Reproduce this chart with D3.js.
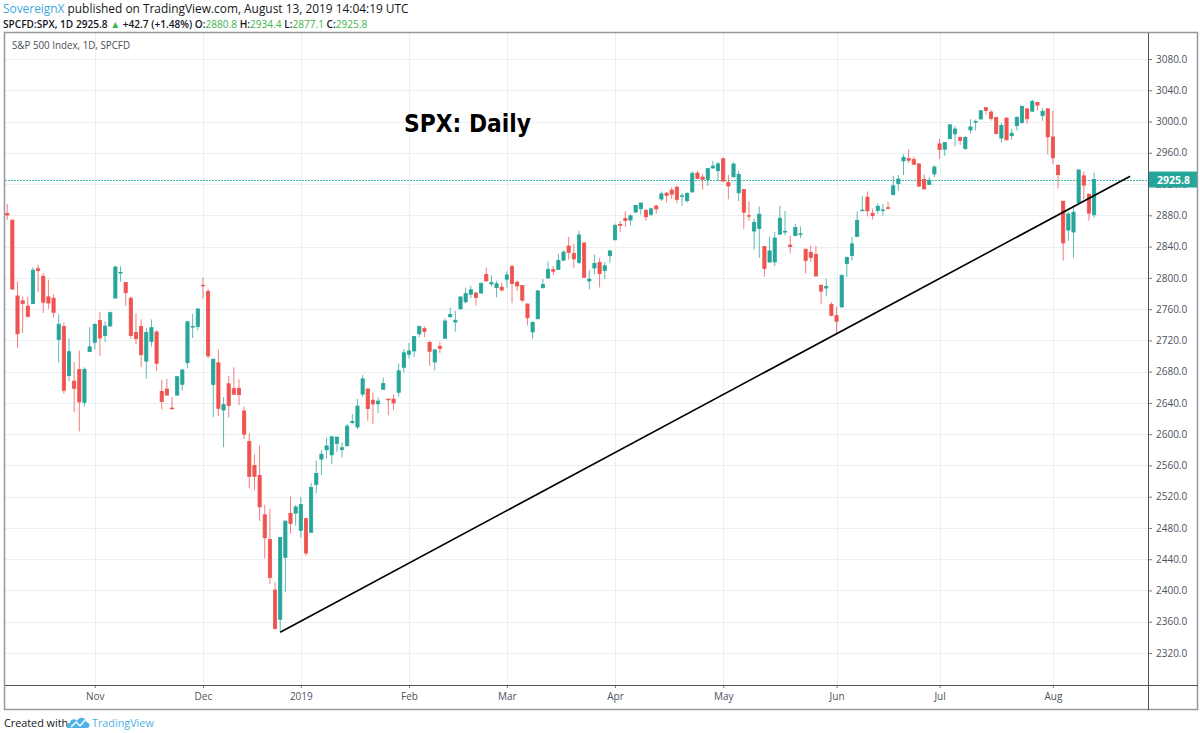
<!DOCTYPE html>
<html>
<head>
<meta charset="utf-8">
<script src="https://cdn.jsdelivr.net/npm/d3@7"></script>
<style>
  body { margin: 0; background: #fff; }
  svg { display: block; font-family: 'Open Sans', sans-serif; }
</style>
</head>
<body>
<svg id="svg" width="1200" height="733"></svg>
<script>
// SPX daily, 2018-10-09 .. 2019-08-13 (one entry per trading day)
const open = [
  2882.51, 2873.90, 2776.87, 2770.54, 2763.83, 2767.05, 2811.67, 2802.00, 2775.66, 2773.94,
  2721.03, 2737.87, 2674.88, 2667.86, 2682.65, 2640.68, 2705.60,
  2717.58, 2745.45, 2726.37, 2738.40, 2774.13, 2806.38, 2794.10, 2773.93, 2730.05, 2737.90,
  2693.52, 2718.70, 2730.74, 2654.60, 2657.74, 2633.36, 2649.97, 2663.75, 2691.45, 2736.97, 2737.76,
  2790.50, 2782.43, 2663.51, 2691.26, 2630.86, 2664.44, 2658.23, 2658.70, 2629.68, 2590.75,
  2559.90, 2547.05, 2496.77, 2465.38, 2400.56, 2363.12, 2442.50, 2498.77, 2498.94,
  2476.96, 2491.92, 2474.33, 2535.61, 2568.11, 2580.00, 2573.51, 2588.11, 2580.31, 2585.10,
  2614.75, 2609.28, 2651.27, 2657.88, 2643.48, 2638.84, 2657.44, 2644.97, 2644.89, 2653.62, 2685.49,
  2702.32, 2706.49, 2728.34, 2735.05, 2717.53, 2692.36, 2712.40, 2722.61, 2750.30, 2743.50,
  2760.24, 2769.28, 2779.05, 2780.67, 2780.67, 2804.35, 2792.36, 2787.50, 2788.11,
  2798.22, 2814.37, 2794.41, 2790.27, 2766.53, 2730.79, 2747.61, 2787.34, 2799.78, 2810.38,
  2810.79, 2822.61, 2840.76, 2831.34, 2819.72, 2844.52, 2796.01, 2812.66, 2819.72, 2809.40, 2828.27,
  2848.63, 2868.24, 2876.09, 2873.99, 2884.16, 2888.46, 2886.58, 2881.37, 2891.92, 2900.86,
  2908.32, 2912.26, 2916.04, 2904.81, 2898.78, 2909.99, 2934.00, 2928.99, 2925.81, 2940.58, 2937.14,
  2952.33, 2922.16, 2929.21, 2908.89, 2913.03, 2879.61, 2859.84, 2863.10, 2840.19, 2820.12, 2820.38,
  2855.80, 2858.60, 2841.94, 2854.02, 2856.06, 2836.70, 2832.41, 2830.03, 2790.25, 2786.94, 2766.15,
  2751.53, 2762.64, 2818.09, 2828.51, 2852.87, 2885.83, 2903.27, 2882.73, 2886.24, 2886.82,
  2889.75, 2906.71, 2920.55, 2949.60, 2952.71, 2951.42, 2945.78, 2926.07, 2919.66, 2932.94,
  2971.41, 2964.66, 2978.08, 2984.25, 2979.77, 2965.52, 2989.30, 2999.62, 3003.36, 3017.80, 3012.13,
  3005.10, 2978.87, 3004.26, 2981.93, 2994.74, 2998.77, 3016.26, 3013.25, 3024.47, 3007.66, 3016.22,
  2980.32, 2943.90, 2898.07, 2861.18, 2858.65, 2896.21, 2930.51, 2907.07, 2880.80,
];
const high = [
  2894.83, 2874.02, 2795.14, 2775.77, 2775.99, 2813.46, 2816.94, 2806.04, 2797.77, 2778.94,
  2753.59, 2742.59, 2722.70, 2692.38, 2706.85, 2685.43, 2736.69,
  2741.67, 2756.55, 2744.27, 2756.82, 2815.15, 2814.75, 2794.10, 2775.99, 2754.60, 2746.80,
  2735.38, 2746.75, 2733.16, 2669.44, 2670.73, 2647.55, 2674.35, 2682.53, 2744.00, 2753.75, 2760.88,
  2800.18, 2785.93, 2696.15, 2708.54, 2647.51, 2674.35, 2685.44, 2670.19, 2635.07, 2601.13,
  2573.99, 2585.29, 2509.63, 2504.41, 2410.34, 2467.76, 2489.10, 2520.27, 2509.24,
  2519.49, 2493.14, 2538.07, 2566.16, 2579.82, 2595.32, 2597.82, 2596.27, 2589.32, 2613.08,
  2625.76, 2645.06, 2675.47, 2657.88, 2653.19, 2647.20, 2672.38, 2644.97, 2650.93, 2690.44, 2708.95,
  2716.66, 2724.99, 2738.98, 2738.08, 2719.32, 2708.07, 2718.05, 2748.19, 2761.85, 2757.90,
  2775.66, 2787.33, 2789.88, 2781.58, 2794.20, 2813.49, 2803.12, 2795.76, 2793.73,
  2808.02, 2816.88, 2796.44, 2790.27, 2767.25, 2744.13, 2784.00, 2798.32, 2821.24, 2815.00,
  2830.73, 2835.41, 2852.42, 2843.54, 2860.31, 2846.16, 2809.79, 2829.87, 2825.56, 2819.71, 2836.03,
  2869.40, 2872.90, 2885.25, 2881.28, 2893.24, 2895.95, 2886.88, 2889.71, 2893.42, 2910.54,
  2909.60, 2916.06, 2918.00, 2908.40, 2909.51, 2936.31, 2936.83, 2933.10, 2939.88, 2949.52, 2948.22,
  2954.13, 2931.68, 2947.85, 2937.32, 2913.03, 2897.96, 2875.97, 2891.31, 2840.19, 2852.54, 2858.68,
  2892.15, 2885.48, 2853.86, 2868.88, 2865.47, 2836.70, 2841.36, 2840.51, 2792.03, 2799.00, 2768.98,
  2763.07, 2804.49, 2827.28, 2852.10, 2884.97, 2904.77, 2910.61, 2888.57, 2895.24, 2894.45,
  2897.27, 2930.79, 2931.74, 2958.06, 2964.15, 2954.92, 2946.52, 2932.59, 2929.30, 2943.98,
  2977.93, 2973.21, 2995.84, 2994.03, 2980.76, 2981.90, 3002.98, 3002.33, 3013.92, 3017.80, 3015.02,
  3005.26, 2998.28, 3006.02, 2990.71, 3005.90, 3019.59, 3016.31, 3027.98, 3025.61, 3017.19, 3017.40,
  3013.59, 2945.50, 2898.07, 2884.40, 2892.17, 2938.72, 2935.75, 2907.58, 2934.40,
];
const low = [
  2874.27, 2784.86, 2710.51, 2729.44, 2749.03, 2766.91, 2781.81, 2755.18, 2760.27, 2749.22,
  2691.43, 2651.89, 2667.84, 2628.16, 2603.54, 2635.34, 2705.60,
  2708.85, 2700.44, 2717.94, 2737.08, 2774.13, 2794.99, 2764.24, 2722.00, 2714.98, 2685.75,
  2670.75, 2712.16, 2681.09, 2631.52, 2649.82, 2631.09, 2649.97, 2655.89, 2684.38, 2722.94, 2732.76,
  2773.38, 2697.18, 2621.53, 2623.14, 2583.23, 2621.30, 2650.26, 2637.27, 2593.84, 2530.54,
  2528.71, 2488.96, 2441.18, 2408.55, 2351.10, 2346.58, 2397.94, 2472.89, 2482.82,
  2467.47, 2443.96, 2474.33, 2524.56, 2547.56, 2568.89, 2562.02, 2577.40, 2570.41, 2585.10,
  2612.68, 2606.36, 2647.58, 2617.27, 2612.86, 2627.01, 2657.33, 2624.06, 2631.05, 2648.34, 2678.65,
  2696.88, 2698.75, 2724.03, 2724.15, 2687.26, 2681.83, 2703.79, 2722.61, 2748.63, 2731.23,
  2760.24, 2767.29, 2774.06, 2764.55, 2779.11, 2794.99, 2789.47, 2775.13, 2782.51,
  2787.38, 2767.66, 2782.97, 2768.69, 2739.09, 2722.27, 2747.61, 2786.73, 2799.78, 2803.46,
  2810.79, 2821.99, 2823.27, 2812.43, 2817.38, 2800.47, 2785.02, 2803.99, 2787.72, 2798.77, 2819.23,
  2848.63, 2858.75, 2865.17, 2867.14, 2882.99, 2880.78, 2873.33, 2879.13, 2881.99, 2898.37,
  2896.48, 2900.71, 2895.45, 2891.90, 2896.35, 2908.53, 2926.05, 2912.84, 2917.56, 2939.35, 2924.11,
  2923.36, 2900.50, 2929.21, 2898.21, 2862.60, 2873.28, 2836.40, 2825.39, 2801.43, 2820.12, 2815.08,
  2855.80, 2854.23, 2831.29, 2854.02, 2851.11, 2805.49, 2820.19, 2801.58, 2766.06, 2776.74, 2750.52,
  2728.81, 2762.64, 2800.92, 2822.45, 2852.87, 2885.51, 2878.53, 2874.68, 2881.99, 2879.62,
  2887.30, 2905.44, 2911.43, 2931.50, 2946.87, 2944.05, 2916.01, 2912.99, 2918.57, 2929.05,
  2952.22, 2955.92, 2977.96, 2967.97, 2970.09, 2963.44, 2984.62, 2988.80, 3001.87, 3008.77, 3001.15,
  2984.25, 2973.09, 2975.86, 2976.65, 2988.56, 2996.82, 2997.24, 3012.59, 3014.30, 3000.94, 2958.08,
  2945.23, 2914.11, 2822.12, 2847.42, 2825.71, 2894.47, 2900.15, 2873.14, 2877.10,
];
const close = [
  2880.34, 2785.68, 2728.37, 2767.13, 2750.79, 2809.92, 2809.21, 2768.78, 2767.78, 2755.88,
  2740.69, 2656.10, 2705.57, 2658.69, 2641.25, 2682.63, 2711.74,
  2740.37, 2723.06, 2738.31, 2755.45, 2813.89, 2806.83, 2781.01, 2726.22, 2722.18, 2701.58,
  2730.20, 2736.27, 2690.73, 2641.89, 2649.93, 2632.56, 2673.45, 2682.17, 2743.79, 2737.76, 2760.17,
  2790.37, 2700.06, 2695.95, 2633.08, 2637.72, 2636.78, 2651.07, 2650.54, 2599.95, 2545.94,
  2546.16, 2506.96, 2467.42, 2416.62, 2351.10, 2467.70, 2488.83, 2485.74, 2506.85,
  2510.03, 2447.89, 2531.94, 2549.69, 2574.41, 2584.96, 2596.64, 2596.26, 2582.61, 2610.30,
  2616.10, 2635.96, 2670.71, 2632.90, 2638.70, 2642.33, 2664.76, 2643.85, 2640.00, 2681.05, 2704.10,
  2706.53, 2724.87, 2737.70, 2731.61, 2706.05, 2707.88, 2709.80, 2744.73, 2753.03, 2745.73,
  2775.60, 2779.76, 2784.70, 2774.88, 2792.67, 2796.11, 2793.90, 2792.38, 2784.49,
  2803.69, 2792.81, 2789.65, 2771.45, 2748.93, 2743.07, 2783.30, 2791.52, 2810.92, 2808.48,
  2822.48, 2832.94, 2832.57, 2824.23, 2854.88, 2800.71, 2798.36, 2818.46, 2805.37, 2815.44, 2834.40,
  2867.19, 2867.24, 2873.40, 2879.39, 2892.74, 2895.77, 2878.20, 2888.21, 2888.32, 2907.41,
  2905.58, 2907.06, 2900.45, 2905.03, 2907.97, 2933.68, 2927.25, 2926.17, 2939.88, 2943.03, 2945.83,
  2923.73, 2917.52, 2945.64, 2932.47, 2884.05, 2879.42, 2870.72, 2881.40, 2811.87, 2834.41, 2850.96,
  2876.32, 2859.53, 2840.23, 2864.36, 2856.27, 2822.24, 2826.06, 2802.39, 2783.02, 2788.86, 2752.06,
  2744.45, 2803.27, 2826.15, 2843.49, 2873.34, 2886.73, 2885.72, 2879.84, 2891.64, 2886.98,
  2889.67, 2917.75, 2926.46, 2954.18, 2950.46, 2945.35, 2917.38, 2913.78, 2924.92, 2941.76,
  2964.33, 2973.01, 2995.82, 2990.41, 2975.95, 2979.63, 2993.07, 2999.91, 3013.77, 3014.30, 3004.04,
  2984.42, 2995.11, 2976.61, 2985.03, 3005.47, 3019.56, 3003.67, 3025.86, 3020.97, 3013.18, 2980.38,
  2953.56, 2932.05, 2844.74, 2881.77, 2883.98, 2938.09, 2918.65, 2882.70, 2925.80,
];

// time axis: label + bar index of first trading day of the month
const monthLabels = ['Nov', 'Dec', '2019', 'Feb', 'Mar', 'Apr', 'May', 'Jun', 'Jul', 'Aug'];
const monthIndex = [17, 38, 57, 78, 97, 118, 139, 161, 181, 203];

// price axis
const priceTicks = [2320, 2360, 2400, 2440, 2480, 2520, 2560, 2600, 2640, 2680, 2720,
  2760, 2800, 2840, 2880, 2920, 2960, 3000, 3040, 3080];
const lastPrice = 2925.8;

// trend line through the Dec 26 and Jun 3 lows
const trendIndex = [53, 218];
const trendPrice = [2346.58, 2930.0];

const headerInfo = { change: '+42.7 (+1.48%)', o: '2880.8', h: '2934.4', l: '2877.1', c: '2925.8' };

const UP = '#26a69a';
const DOWN = '#ef5350';
const GRID = '#e9eff3';

const svg = d3.select('#svg');
const plot = { left: 5, right: 1148, top: 33, bottom: 685 };
const frame = { right: 1198, bottom: 710 };

const x = d3.scaleLinear().domain([0, 211]).range([7.2, 1094.1]);
const y = d3.scaleLinear().domain([2320, 3080]).range([653, 59]);

svg.append('rect').attr('width', 1200).attr('height', 733).attr('fill', '#fff');

svg.append('defs').append('clipPath').attr('id', 'plotClip')
  .append('rect')
  .attr('x', plot.left).attr('y', plot.top)
  .attr('width', plot.right - plot.left).attr('height', plot.bottom - plot.top);

// Grid
const gGrid = svg.append('g').attr('clip-path', 'url(#plotClip)');
gGrid.selectAll('line.h')
  .data(priceTicks)
  .enter()
  .append('line')
  .attr('x1', plot.left).attr('x2', plot.right)
  .attr('y1', (d) => Math.round(y(d)) + 0.5).attr('y2', (d) => Math.round(y(d)) + 0.5)
  .attr('stroke', GRID);
gGrid.selectAll('line.v')
  .data(monthIndex)
  .enter()
  .append('line')
  .attr('x1', (d) => Math.round(x(d)) + 0.5).attr('x2', (d) => Math.round(x(d)) + 0.5)
  .attr('y1', plot.top).attr('y2', plot.bottom)
  .attr('stroke', GRID);

// Last price dotted line
svg.append('line')
  .attr('x1', plot.left).attr('x2', plot.right)
  .attr('y1', Math.round(y(lastPrice)) + 0.5).attr('y2', Math.round(y(lastPrice)) + 0.5)
  .attr('stroke', '#3fb5a9').attr('stroke-dasharray', '2,1');

// Candles
const candles = close.map((c, i) => ({ i, o: open[i], h: high[i], l: low[i], c }));
const gCandles = svg.append('g').attr('clip-path', 'url(#plotClip)');
const candle = gCandles.selectAll('g.candle')
  .data(candles)
  .enter()
  .append('g')
  .attr('fill', (d) => (d.c >= d.o ? UP : DOWN))
  .attr('stroke', (d) => (d.c >= d.o ? UP : DOWN));
candle.append('line')
  .attr('x1', (d) => x(d.i)).attr('x2', (d) => x(d.i))
  .attr('y1', (d) => y(d.h)).attr('y2', (d) => y(d.l))
  .attr('stroke-width', 1)
  .attr('stroke-opacity', 0.75);
candle.append('rect')
  .attr('x', (d) => x(d.i) - 1.6)
  .attr('width', 3.2)
  .attr('y', (d) => y(Math.max(d.o, d.c)))
  .attr('height', (d) => Math.max(0.6, Math.abs(y(d.o) - y(d.c))))
  .attr('stroke-width', 0.8);

// Trend line
svg.append('line')
  .attr('x1', x(trendIndex[0])).attr('y1', y(trendPrice[0]))
  .attr('x2', x(trendIndex[1])).attr('y2', y(trendPrice[1]))
  .attr('stroke', '#000').attr('stroke-width', 1.6);

// Title
svg.append('text')
  .attr('x', 404).attr('y', 132)
  .attr('font-family', 'DejaVu Sans, sans-serif')
  .attr('font-weight', 'bold')
  .attr('font-size', 24)
  .attr('textLength', 127)
  .attr('lengthAdjust', 'spacingAndGlyphs')
  .attr('fill', '#000')
  .text('SPX: Daily');

// Legend inside the chart
svg.append('text')
  .attr('x', 12).attr('y', 49)
  .attr('font-size', 10.5)
  .attr('textLength', 118)
  .attr('lengthAdjust', 'spacingAndGlyphs')
  .attr('fill', '#4a4e57')
  .text('S&P 500 Index, 1D, SPCFD');

// Price axis
const yAxis = d3.axisRight(y)
  .tickValues(priceTicks)
  .tickSize(4)
  .tickPadding(4)
  .tickFormat(d3.format('.1f'));
const gY = svg.append('g')
  .attr('transform', `translate(${plot.right},0)`)
  .call(yAxis);
gY.select('.domain').remove();
gY.selectAll('line').attr('stroke', '#787b86');
gY.selectAll('text')
  .attr('font-family', 'Open Sans, sans-serif')
  .attr('font-size', 10)
  .attr('fill', '#4c525e');

// Time axis
const xAxis = d3.axisBottom(x)
  .tickValues(monthIndex)
  .tickSize(3)
  .tickPadding(5)
  .tickFormat((d) => monthLabels[monthIndex.indexOf(d)]);
const gX = svg.append('g')
  .attr('transform', `translate(0,${plot.bottom})`)
  .call(xAxis);
gX.select('.domain').remove();
gX.selectAll('line').attr('stroke', '#787b86');
gX.selectAll('text')
  .attr('font-family', 'Open Sans, sans-serif')
  .attr('font-size', 10)
  .attr('fill', '#4c525e');

// Price label
const gLabel = svg.append('g').attr('transform', `translate(${plot.right + 1},${y(lastPrice)})`);
gLabel.append('rect')
  .attr('x', 0).attr('y', -8)
  .attr('width', frame.right - plot.right - 1).attr('height', 16)
  .attr('fill', UP);
gLabel.append('text')
  .attr('x', 8).attr('y', 4)
  .attr('font-size', 10.5)
  .attr('font-weight', 'bold')
  .attr('fill', '#fff')
  .text(d3.format('.1f')(lastPrice));

// Frame and separators
svg.append('rect')
  .attr('x', plot.left - 0.5).attr('y', plot.top - 0.5)
  .attr('width', frame.right - plot.left).attr('height', frame.bottom - plot.top)
  .attr('fill', 'none').attr('stroke', '#9598a1').attr('stroke-width', 1.5);
svg.append('line')
  .attr('x1', plot.right + 0.5).attr('x2', plot.right + 0.5)
  .attr('y1', plot.top).attr('y2', frame.bottom)
  .attr('stroke', '#50535e');
svg.append('line')
  .attr('x1', plot.left).attr('x2', frame.right)
  .attr('y1', plot.bottom + 0.5).attr('y2', plot.bottom + 0.5)
  .attr('stroke', '#50535e');

// Header
const head1 = svg.append('text').attr('x', 3).attr('y', 13).attr('font-size', 11.9)
  .attr('fill', '#131722');
head1.append('tspan').attr('fill', '#3ea6dd').text('SovereignX');
head1.append('tspan').text(' published on TradingView.com, August 13, 2019 14:04:19 UTC');

const GREEN = '#3cb44a';
const head2 = svg.append('text').attr('x', 3).attr('y', 28).attr('font-size', 10.1)
  .attr('font-weight', 600).attr('fill', '#131722');
head2.append('tspan').text('SPCFD:SPX, 1D  ' + headerInfo.c + ' ');
head2.append('tspan').attr('fill', GREEN).text('▲');
head2.append('tspan').text(' ' + headerInfo.change + ' O:');
head2.append('tspan').attr('fill', GREEN).attr('font-weight', 400).text(headerInfo.o);
head2.append('tspan').text(' H:');
head2.append('tspan').attr('fill', GREEN).attr('font-weight', 400).text(headerInfo.h);
head2.append('tspan').text(' L:');
head2.append('tspan').attr('fill', GREEN).attr('font-weight', 400).text(headerInfo.l);
head2.append('tspan').text(' C:');
head2.append('tspan').attr('fill', GREEN).attr('font-weight', 400).text(headerInfo.c);

// Footer
svg.append('text').attr('x', 4).attr('y', 727).attr('font-size', 10.8).attr('fill', '#131722')
  .text('Created with');
const logo = svg.append('g').attr('transform', 'translate(66,715)');
logo.append('path')
  .attr('d', 'M2,13 C0,13 0,8 4,8 C4,4 9,3 11,6 C13,1 20,2 20,7 C24,7 25,13 21,13 Z')
  .attr('fill', '#4cb2e6');
logo.append('path')
  .attr('d', 'M5,12 L10,7 L14,11 L19,5')
  .attr('fill', 'none').attr('stroke', '#fff').attr('stroke-width', 1.4);
svg.append('text').attr('x', 92).attr('y', 727).attr('font-size', 10.8).attr('fill', '#4cb2e6')
  .text('TradingView');
</script>
</body>
</html>
